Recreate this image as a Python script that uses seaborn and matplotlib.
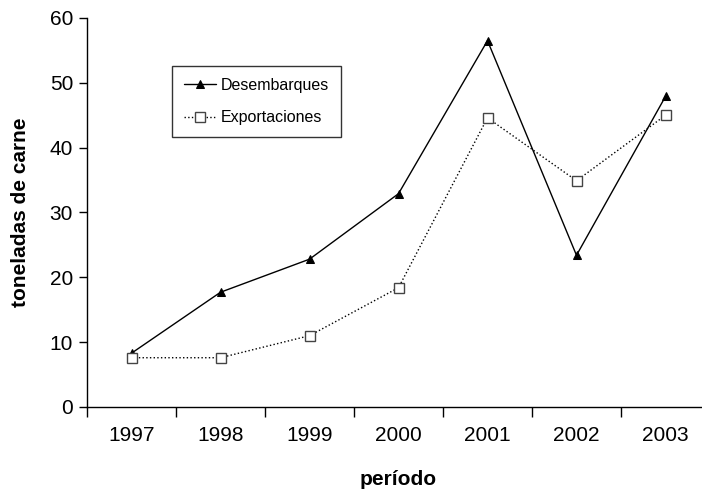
import numpy as np
import pandas as pd
import matplotlib
matplotlib.use("Agg")
import matplotlib.pyplot as plt
import seaborn as sns

# data
years = ["1997", "1998", "1999", "2000", "2001", "2002", "2003"]
desembarques = [8.3, 17.7, 22.8, 32.9, 56.5, 23.4, 47.9]
exportaciones = [7.6, 7.6, 11.0, 18.4, 44.6, 34.9, 45.0]

sns.set_style("ticks")
plt.rcParams["font.family"] = ["Liberation Sans", "DejaVu Sans"]
plt.rcParams.update({"text.color": "black", "axes.labelcolor": "black",
                     "xtick.color": "black", "ytick.color": "black"})

df = pd.DataFrame({"pos": np.arange(len(years)),
                   "Desembarques": desembarques,
                   "Exportaciones": exportaciones})

fig = plt.figure(figsize=(7.02, 4.91), dpi=100)
ax = fig.add_axes([87 / 702, 84 / 491, 623 / 702, 389 / 491])

sns.lineplot(data=df, x="pos", y="Desembarques", ax=ax, color="black",
             linewidth=1.0, marker="^", markersize=6, markerfacecolor="black",
             markeredgecolor="black", label="Desembarques")
sns.lineplot(data=df, x="pos", y="Exportaciones", ax=ax, color="black",
             linewidth=1.0, linestyle=":", marker="s", markersize=6.5,
             markerfacecolor="white", markeredgecolor="#444444",
             markeredgewidth=1.0, label="Exportaciones")

ax.set_xlim(-0.5, len(years) - 0.5)
ax.set_ylim(0, 60)
ax.set_yticks(range(0, 61, 10))
ax.set_xticks(np.arange(len(years)))
ax.set_xticklabels(years)
ax.set_xticks(np.arange(len(years) + 1) - 0.5, minor=True)
ax.tick_params(axis="x", which="major", length=0, labelsize=15, pad=14)
ax.tick_params(axis="x", which="minor", length=7, width=1, color="black", direction="out")
ax.tick_params(axis="y", length=6, width=1, color="black", labelsize=15, pad=4)

for side in ["top", "right"]:
    ax.spines[side].set_visible(False)
for side in ["left", "bottom"]:
    ax.spines[side].set_color("black")
    ax.spines[side].set_linewidth(1.0)

ax.set_xlabel("período", fontsize=15, fontweight="bold", labelpad=18)
ax.set_ylabel("toneladas de carne", fontsize=15, fontweight="bold", labelpad=14)

leg = ax.legend(loc="upper left", bbox_to_anchor=(0.136, 0.877), borderaxespad=0,
                frameon=True, fancybox=False, edgecolor="black", fontsize=11.5,
                handlelength=2.0, labelspacing=1.1, borderpad=0.75, handletextpad=0.3)
leg.get_frame().set_linewidth(1.0)

fig.savefig("out.png", dpi=100)
